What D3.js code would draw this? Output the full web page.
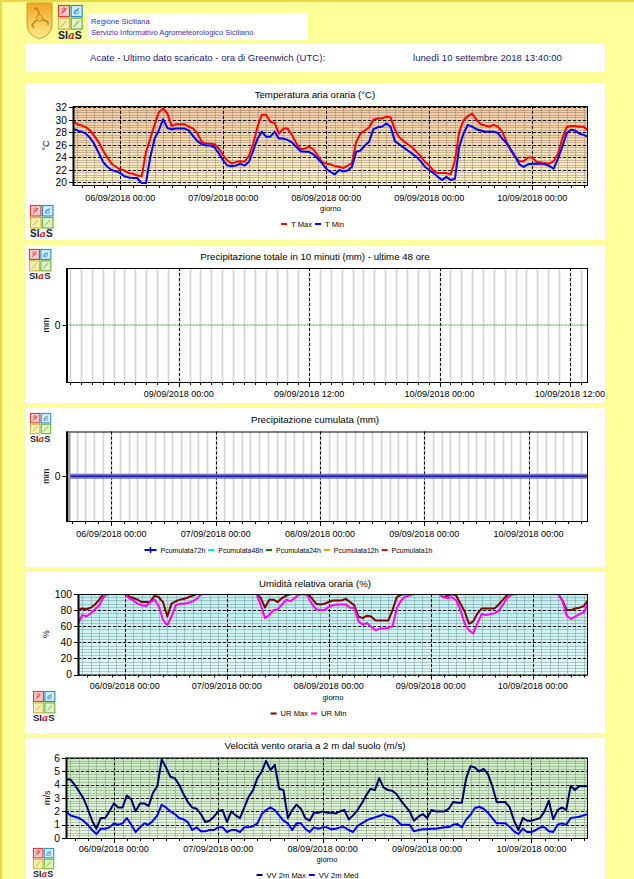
<!DOCTYPE html>
<html><head><meta charset="utf-8">
<script src="https://cdn.jsdelivr.net/npm/d3@7"></script>
<style>
body{margin:0;background:#FFFF99;}
svg{display:block;font-family:"Liberation Sans",Arial,sans-serif;}
</style>
</head><body>
<svg id="c" width="634" height="879"></svg>
<script>
// ---------------- DATA ----------------
const stationLine = "Acate - Ultimo dato scaricato - ora di Greenwich (UTC):";
const lastUpdate = "lunedì 10 settembre 2018 13:40:00";
const orgLines = ["Regione Siciliana", "Servizio Informativo Agrometeorologico Siciliano"];
const titles = ["Temperatura aria oraria (°C)", "Precipitazione totale in 10 minuti (mm) - ultime 48 ore",
  "Precipitazione cumulata (mm)", "Umidità relativa oraria (%)", "Velocità vento oraria a 2 m dal suolo (m/s)"];
const hourlyStart = Date.UTC(2018, 8, 5, 13, 0);   // 05/09/2018 13:00 UTC, one value per hour
const hourlyEnd = Date.UTC(2018, 8, 10, 13, 0);
const rainStart = Date.UTC(2018, 8, 8, 13, 40);    // last 48 h, 10-minute steps
const rainEnd = Date.UTC(2018, 8, 10, 13, 40);
const cumStart = Date.UTC(2018, 8, 5, 13, 40);
const cumEnd = Date.UTC(2018, 8, 10, 13, 40);

const tempTicks = [20, 22, 24, 26, 28, 30, 32];
const humTicks = [0, 20, 40, 60, 80, 100];
const windTicks = [0, 1, 2, 3, 4, 5, 6];

const tMax = [29.8,29.3,29.1,28.8,28.3,27.4,26.4,25.1,24.0,23.0,
 22.5,22.1,21.9,21.5,21.4,21.1,21.0,24.8,27.0,29.2,
 31.2,31.8,31.0,29.0,29.3,29.3,29.3,28.9,28.6,27.8,
 26.5,26.2,26.2,26.1,25.4,24.3,23.5,23.0,23.3,23.4,
 23.3,24.3,26.2,28.9,30.8,30.8,29.7,29.5,27.8,28.6,
 28.6,27.6,26.3,25.3,25.4,25.7,25.3,24.3,23.3,23.0,
 22.9,22.6,22.5,22.3,22.7,23.1,26.5,27.8,28.3,28.8,
 30.0,30.2,30.2,30.5,30.4,28.4,27.2,26.6,26.1,25.6,
 24.9,24.2,23.3,22.7,21.9,21.5,21.5,21.5,21.3,23.5,
 28.1,29.9,30.6,31.0,30.0,29.3,29.1,28.9,29.2,28.9,
 28.1,26.5,25.1,24.1,23.4,23.4,24.0,24.0,23.3,23.2,
 23.1,23.0,23.4,24.6,27.0,28.8,29.0,29.0,28.9,28.9,
 28.3];
const tMin = [28.6,28.3,28.1,27.8,27.1,26.1,24.7,23.3,22.5,22.0,
 21.8,21.5,21.0,20.8,20.7,20.7,19.9,19.9,24.0,27.0,
 28.3,30.1,28.7,28.5,28.6,28.6,28.6,28.3,27.4,26.6,
 26.1,25.9,25.9,25.6,24.6,23.5,22.7,22.6,22.7,23.0,
 22.7,23.3,25.1,27.0,28.1,27.3,27.3,28.1,27.0,27.0,
 26.8,26.4,25.7,25.0,24.9,24.9,24.5,23.8,23.1,22.2,
 21.7,21.3,22.0,21.8,21.9,22.5,24.9,25.1,25.9,26.5,
 28.5,28.8,28.9,29.4,28.9,26.6,26.1,25.6,25.1,24.6,
 24.1,23.4,22.5,22.0,21.5,20.9,20.4,20.9,20.4,20.6,
 25.7,27.8,29.2,28.9,28.5,28.3,28.1,28.1,28.1,27.9,
 27.0,26.3,25.3,24.2,22.9,22.5,22.9,23.0,23.0,23.0,
 22.9,22.6,22.2,23.8,25.7,27.8,28.4,28.3,27.8,27.6,
 27.3];
const rain10min = [0,0,0,0,0,0,0,0,0,0,0,0,0,0,0,0,0,0,0,0,0,0,0,0,
 0,0,0,0,0,0,0,0,0,0,0,0,0,0,0,0,0,0,0,0,0,0,0,0,
 0,0,0,0,0,0,0,0,0,0,0,0,0,0,0,0,0,0,0,0,0,0,0,0,
 0,0,0,0,0,0,0,0,0,0,0,0,0,0,0,0,0,0,0,0,0,0,0,0,
 0,0,0,0,0,0,0,0,0,0,0,0,0,0,0,0,0,0,0,0,0,0,0,0,
 0,0,0,0,0,0,0,0,0,0,0,0,0,0,0,0,0,0,0,0,0,0,0,0,
 0,0,0,0,0,0,0,0,0,0,0,0,0,0,0,0,0,0,0,0,0,0,0,0,
 0,0,0,0,0,0,0,0,0,0,0,0,0,0,0,0,0,0,0,0,0,0,0,0,
 0,0,0,0,0,0,0,0,0,0,0,0,0,0,0,0,0,0,0,0,0,0,0,0,
 0,0,0,0,0,0,0,0,0,0,0,0,0,0,0,0,0,0,0,0,0,0,0,0,
 0,0,0,0,0,0,0,0,0,0,0,0,0,0,0,0,0,0,0,0,0,0,0,0,
 0,0,0,0,0,0,0,0,0,0,0,0,0,0,0,0,0,0,0,0,0,0,0,0,0];
// cumulated rain (mm), one value per hour – every series is 0
const pCumulZero = [0,0,0,0,0,0,0,0,0,0,0,0,0,0,0,0,0,0,0,0,0,0,0,0,
 0,0,0,0,0,0,0,0,0,0,0,0,0,0,0,0,0,0,0,0,0,0,0,0,
 0,0,0,0,0,0,0,0,0,0,0,0,0,0,0,0,0,0,0,0,0,0,0,0,
 0,0,0,0,0,0,0,0,0,0,0,0,0,0,0,0,0,0,0,0,0,0,0,0,
 0,0,0,0,0,0,0,0,0,0,0,0,0,0,0,0,0,0,0,0,0,0,0,0,0];
const pcumulata72h = pCumulZero, pcumulata48h = pCumulZero, pcumulata24h = pCumulZero,
      pcumulata12h = pCumulZero, pcumulata1h = pCumulZero;
const urMax = [80,82,81,83,87,93,100,100,100,100,
 100,100,97,95,93,90,90,90,98,96,
 90,72,88,91,93,94,96,98,100,100,
 100,100,100,100,100,100,100,100,100,100,
 100,100,100,95,83,93,93,90,95,98,
 100,100,100,100,100,95,88,87,88,90,
 92,92,92,94,90,86,72,70,73,72,
 67,67,67,67,80,96,99,100,100,100,
 100,100,100,100,100,100,96,98,100,98,
 88,78,63,66,76,82,82,82,82,87,
 93,99,100,100,100,100,100,100,100,100,
 100,100,100,100,92,80,80,82,83,85,
 92];
const urMin = [63,74,72,76,81,86,96,100,100,100,
 100,100,95,92,88,86,85,90,93,85,
 68,61,72,86,88,88,89,91,94,100,
 100,100,100,100,100,100,100,100,100,100,
 100,100,100,86,70,74,80,81,87,93,
 91,95,99,100,98,88,81,80,80,84,
 86,87,87,87,83,83,66,62,64,59,
 55,57,57,58,60,82,92,97,98,100,
 100,100,100,100,100,100,96,95,96,92,
 80,63,55,51,64,75,74,75,76,79,
 87,95,99,100,100,100,100,100,100,100,
 100,100,100,100,91,73,69,72,75,77,
 88];
const vvMax = [4.4,4.4,4.0,3.5,3.0,2.2,1.3,0.7,1.5,1.5,
 2.0,2.6,2.3,2.3,3.2,2.9,2.0,2.6,2.6,2.4,
 3.4,3.9,5.9,5.3,4.6,4.5,4.0,3.3,2.7,2.3,
 2.2,1.8,1.2,1.3,1.6,2.0,2.1,1.2,2.0,1.7,
 1.5,2.3,3.1,3.6,4.5,5.0,5.8,5.1,5.5,3.7,
 3.6,1.5,2.1,2.5,2.2,1.5,1.3,1.9,1.9,2.0,
 1.9,1.9,1.85,2.0,2.1,1.4,1.7,2.1,2.6,3.2,
 3.7,3.6,4.5,3.8,3.6,3.55,3.3,2.8,2.4,2.0,
 1.3,1.6,1.8,1.5,2.1,2.0,2.0,2.0,2.2,2.7,
 2.65,2.65,4.5,5.4,5.3,5.0,5.2,4.8,3.9,2.7,
 2.7,2.7,2.3,1.3,0.6,1.5,1.3,1.3,1.4,1.5,
 2.0,2.8,1.4,2.1,2.3,2.1,3.9,3.6,3.9,3.9,
 3.9];
const vvMed = [2.0,1.7,1.6,1.5,1.3,1.0,0.6,0.3,0.7,0.7,
 0.8,1.1,1.0,1.1,1.5,1.0,0.45,0.8,1.1,1.0,
 1.3,1.7,2.5,2.3,2.0,1.8,1.5,1.4,1.2,0.6,
 0.8,0.5,0.5,0.6,0.6,0.8,0.8,0.45,0.6,0.6,
 0.45,0.8,0.8,0.9,1.1,1.8,2.1,2.3,2.1,1.7,
 1.3,1.1,0.6,1.1,1.1,0.7,0.45,0.8,0.7,0.8,
 0.8,0.65,0.7,0.8,0.8,0.6,0.45,0.9,1.1,1.3,
 1.45,1.55,1.65,1.8,1.65,1.6,1.35,1.0,1.0,1.0,
 0.5,0.6,0.65,0.65,0.7,0.7,0.75,0.8,0.8,1.0,
 1.05,0.8,1.4,1.75,2.25,2.35,2.2,1.9,1.5,1.1,
 1.1,1.1,0.85,0.5,0.3,0.7,0.45,0.45,0.6,0.8,
 0.8,0.5,0.45,1.0,1.1,1.0,1.5,1.55,1.6,1.7,
 1.8];

// ---------------- DRAW ----------------
const svg = d3.select("#c");
const defs = svg.append("defs");
const H = 3600e3;
const fmt = d3.utcFormat("%d/%m/%Y %H:%M");
const timesFrom = (start, n, stepMs) => d3.range(n).map(i => new Date(start + i * stepMs));

function grad(id, c1, c2) {
  const lg = defs.append("linearGradient").attr("id", id).attr("x1", 0).attr("y1", 0).attr("x2", 0).attr("y2", 1);
  lg.append("stop").attr("offset", "0%").attr("stop-color", c1);
  lg.append("stop").attr("offset", "100%").attr("stop-color", c2);
}
grad("gTemp", "#F4C69C", "#FDF3C8");
grad("gHum", "#BCEEF0", "#E2FAFA");
grad("gWind", "#C4EABD", "#EAF7E0");
grad("gShield", "#F2A622", "#FCEB8C");

// page
svg.append("rect").attr("width", 634).attr("height", 879).attr("fill", "#FFFF99");
svg.append("rect").attr("width", 634).attr("height", 2).attr("fill", "#E9D64A");
svg.append("rect").attr("width", 2).attr("height", 879).attr("fill", "#E9D64A");

function siasLogo(x, y, s) {
  const g = svg.append("g").attr("transform", `translate(${x},${y}) scale(${s})`);
  const sq = [[0, 0, "#F9CACA", "#E23A3A"], [12, 0, "#D2EEFB", "#2E8FD0"], [0, 12, "#F6EEB4", "#D0B33A"], [12, 12, "#E0F4CC", "#6DB236"]];
  sq.forEach(([a, b, f, st]) => {
    g.append("rect").attr("x", a + 0.5).attr("y", b + 0.5).attr("width", 10.5).attr("height", 10.5).attr("fill", f).attr("stroke", st).attr("stroke-width", 1.2);
    g.append("path").attr("d", `M${a + 3},${b + 8.5} L${a + 8},${b + 3}`).attr("stroke", st).attr("stroke-width", 1).attr("fill", "none");
  });
  g.append("circle").attr("cx", 5.5).attr("cy", 4.5).attr("r", 1.6).attr("fill", "none").attr("stroke", "#E23A3A").attr("stroke-width", 0.8);
  g.append("circle").attr("cx", 17.5).attr("cy", 6.5).attr("r", 2).attr("fill", "none").attr("stroke", "#2E8FD0").attr("stroke-width", 0.8);
  const t = g.append("text").attr("x", 0).attr("y", 32).attr("font-size", 10).attr("font-weight", "bold").attr("fill", "#1A1A3A");
  t.append("tspan").text("SI");
  t.append("tspan").attr("fill", "#D22").attr("font-style", "italic").attr("font-family", "DejaVu Serif, serif").text("a");
  t.append("tspan").text("S");
}

// header
const sh = svg.append("g").attr("transform", "translate(27,3)");
sh.append("path").attr("d", "M0,0 H25 V21 Q25,32 12.5,36 Q0,32 0,21 Z").attr("fill", "url(#gShield)").attr("stroke", "#C99A28").attr("stroke-width", 1);
sh.append("circle").attr("cx", 12.5).attr("cy", 15).attr("r", 3.2).attr("fill", "#F3C050").attr("stroke", "#B88020").attr("stroke-width", 0.8);
sh.append("path").attr("d", "M12.5,11.5 L10,5 L7,6 M15.5,16.5 L21,19 L21,22 M9.5,17 L5,22 L7,25").attr("stroke", "#B88020").attr("stroke-width", 1.4).attr("fill", "none");
siasLogo(58, 5, 1.05);
svg.append("rect").attr("x", 88).attr("y", 13).attr("width", 220).attr("height", 27).attr("fill", "#fff");
svg.append("text").attr("x", 91).attr("y", 24).attr("font-size", 7.6).attr("fill", "#3434B4").text(orgLines[0]);
svg.append("text").attr("x", 91).attr("y", 35).attr("font-size", 7.6).attr("fill", "#3434B4").text(orgLines[1]);
svg.append("rect").attr("x", 25).attr("y", 44).attr("width", 580).attr("height", 28).attr("fill", "#fff");
svg.append("text").attr("x", 90).attr("y", 61).attr("font-size", 9.6).attr("fill", "#1C1C6C").text(stationLine);
svg.append("text").attr("x", 413).attr("y", 61).attr("font-size", 9.6).attr("fill", "#1C1C6C").text(lastUpdate);

function legend(items, cx, y, fs) {
  const lg = svg.append("g");
  let xp = 0;
  items.forEach(it => {
    const dw = it.dash || 6;
    lg.append("line").attr("x1", xp).attr("x2", xp + dw).attr("y1", y - 2.5).attr("y2", y - 2.5).attr("stroke", it.color).attr("stroke-width", 2);
    if (it.plus) {
      lg.append("path").attr("d", `M${xp + dw / 2 - 3},${y - 2.5} H${xp + dw / 2 + 3} M${xp + dw / 2},${y - 5.5} V${y + 0.5}`).attr("stroke", it.color).attr("stroke-width", 1.5);
    }
    const t = lg.append("text").attr("x", xp + dw + 4).attr("y", y).attr("font-size", fs).text(it.label);
    xp += dw + 4 + t.node().getComputedTextLength() + 3;
  });
  lg.attr("transform", `translate(${cx - xp / 2},0)`);
}

function panel(c) {
  const g = svg.append("g");
  g.append("rect").attr("x", 25).attr("y", c.top).attr("width", 580).attr("height", c.height).attr("fill", "#fff");
  g.append("text").attr("x", 315).attr("y", c.titleY).attr("text-anchor", "middle").attr("font-size", 9.7).text(c.title);
  const { x0, x1, y0, y1 } = c;
  const x = d3.scaleUtc().domain(c.xDomain).range([x0, x1]);
  const y = d3.scaleLinear().domain(c.yDomain).range([y1, y0]);
  const clip = "clip" + c.id;
  defs.append("clipPath").attr("id", clip).append("rect").attr("x", x0).attr("y", y0).attr("width", x1 - x0).attr("height", y1 - y0);
  g.append("rect").attr("x", x0).attr("y", y0).attr("width", x1 - x0).attr("height", y1 - y0).attr("fill", c.bg || "#fff");
  const px = v => Math.round(v) + 0.5;
  const [d0, d1] = c.xDomain.map(d => new Date(d));
  if (c.yMinor) {
    g.append("g").selectAll("line").data(c.yMinor).join("line")
      .attr("x1", x0).attr("x2", x1).attr("y1", d => px(y(d))).attr("y2", d => px(y(d)))
      .attr("stroke", c.minorColor).attr("stroke-width", 1);
  }
  const vg = d3.utcHour.every(c.vStep).range(d0, d1);
  g.append("g").selectAll("line").data(vg).join("line")
    .attr("x1", d => px(x(d))).attr("x2", d => px(x(d))).attr("y1", y0).attr("y2", y1)
    .attr("stroke", c.vColor).attr("stroke-width", c.vWidth || 1);
  const majors = d3.utcHour.every(c.majorStep).range(d0, d1);
  g.append("g").selectAll("line").data(majors).join("line")
    .attr("x1", d => px(x(d))).attr("x2", d => px(x(d))).attr("y1", y0).attr("y2", y1)
    .attr("stroke", "#000").attr("stroke-width", 1).attr("stroke-dasharray", "3,2");
  if (c.yGridDashed) {
    g.append("g").selectAll("line").data(c.yTicks).join("line")
      .attr("x1", x0).attr("x2", x1).attr("y1", d => px(y(d))).attr("y2", d => px(y(d)))
      .attr("stroke", "#000").attr("stroke-width", 1).attr("stroke-dasharray", "3,2");
  }
  // series
  const sg = g.append("g").attr("clip-path", `url(#${clip})`);
  c.series.forEach(s => {
    const line = d3.line().x((d, i) => x(s.times[i])).y(d => y(d));
    sg.append("path").datum(s.values).attr("d", line).attr("fill", "none")
      .attr("stroke", s.color).attr("stroke-width", s.width || 2)
      .attr("stroke-dasharray", s.dash || null).attr("stroke-linejoin", "round");
  });
  // frame
  g.append("rect").attr("x", x0 + 0.5).attr("y", y0 + 0.5).attr("width", x1 - x0 - 1).attr("height", y1 - y0).attr("fill", "none").attr("stroke", "#000").attr("stroke-width", 1);
  g.append("line").attr("x1", x0 + 0.5).attr("x2", x0 + 0.5).attr("y1", y0).attr("y2", y1 + 1).attr("stroke", "#000").attr("stroke-width", 2);
  if (c.greyLeft) g.append("rect").attr("x", x0 + 1.5).attr("y", y0 + 1).attr("width", 2.5).attr("height", y1 - y0 - 1).attr("fill", "#9A9A9A");
  // x ticks
  const ticks = d3.utcHour.every(c.tickStep).range(d0, d1);
  g.append("g").selectAll("line").data(ticks).join("line")
    .attr("x1", d => px(x(d))).attr("x2", d => px(x(d))).attr("y1", y1).attr("y2", y1 + 3)
    .attr("stroke", "#000").attr("stroke-width", 1);
  g.append("g").selectAll("line").data(majors).join("line")
    .attr("x1", d => px(x(d))).attr("x2", d => px(x(d))).attr("y1", y1).attr("y2", y1 + 5)
    .attr("stroke", "#000").attr("stroke-width", 1);
  g.append("g").selectAll("text").data(majors).join("text")
    .attr("x", d => x(d)).attr("y", c.labelY).attr("text-anchor", "middle").attr("font-size", 9).text(d => fmt(d));
  // y ticks
  g.append("g").selectAll("line").data(c.yTicks).join("line")
    .attr("x1", x0 - 4).attr("x2", x0).attr("y1", d => px(y(d))).attr("y2", d => px(y(d))).attr("stroke", "#000");
  g.append("g").selectAll("text").data(c.yTicks).join("text")
    .attr("x", x0 - 6).attr("y", d => y(d)).attr("dy", "0.36em").attr("text-anchor", "end").attr("font-size", 10.3).text(d => d);
  g.append("text").attr("transform", `translate(${c.yLabelX},${(y0 + y1) / 2}) rotate(-90)`).attr("text-anchor", "middle").attr("font-size", 9).text(c.yLabel);
  if (c.giornoY) g.append("text").attr("x", (x0 + x1) / 2).attr("y", c.giornoY).attr("text-anchor", "middle").attr("font-size", 7.5).text("giorno");
  if (c.legend) legend(c.legend, c.legendCx || 312, c.legendY, c.legendFs || 7.6);
  siasLogo(c.logo[0], c.logo[1], c.logo[2]);
}

const hTimes = timesFrom(hourlyStart, tMax.length, H);

panel({
  id: 1, top: 83, height: 157, titleY: 97.8, title: titles[0],
  x0: 73, x1: 588, y0: 106, y1: 185, xDomain: [hourlyStart, hourlyEnd], yDomain: [19.6, 32.2],
  bg: "url(#gTemp)", yMinor: d3.range(19.6, 32.21, 0.4), minorColor: "rgba(140,130,120,0.45)",
  vStep: 2, vColor: "rgba(140,130,120,0.45)", majorStep: 24, tickStep: 3, yGridDashed: true,
  yTicks: tempTicks, yLabel: "°C", yLabelX: 49, labelY: 200.5, giornoY: 210.5,
  series: [{ values: tMax, times: hTimes, color: "#FF0000" }, { values: tMin, times: hTimes, color: "#0000FF" }],
  legend: [{ label: "T Max", color: "#FF0000" }, { label: "T Min", color: "#0000FF" }], legendY: 226.5, legendCx: 314,
  logo: [30, 205, 1.0]
});

panel({
  id: 2, top: 245, height: 158, titleY: 260, title: titles[1],
  x0: 66.5, x1: 588, y0: 268, y1: 382, xDomain: [rainStart, rainEnd], yDomain: [-1, 1],
  vStep: 1, vColor: "#D4D4D4", vWidth: 1.6, majorStep: 12, tickStep: 1,
  yTicks: [0], yLabel: "mm", yLabelX: 49, labelY: 397,
  series: [{ values: rain10min, times: timesFrom(rainStart, rain10min.length, H / 6), color: "#2E9B2E", width: 1, dash: "2,1" }],
  logo: [29, 249, 0.95]
});

const cTimes = timesFrom(cumStart, pCumulZero.length, H);
panel({
  id: 3, top: 408, height: 159, titleY: 422.7, title: titles[2],
  x0: 66.5, x1: 588, y0: 431.5, y1: 521, xDomain: [cumStart, cumEnd], yDomain: [-1, 1],
  vStep: 2, vColor: "#D4D4D4", vWidth: 1.6, majorStep: 24, tickStep: 3, greyLeft: true,
  yTicks: [0], yLabel: "mm", yLabelX: 49, labelY: 536.5,
  series: [
    { values: pcumulata1h, times: cTimes, color: "#FF0000", width: 1 },
    { values: pcumulata12h, times: cTimes, color: "#E0A000", width: 1 },
    { values: pcumulata24h, times: cTimes, color: "#008000", width: 1 },
    { values: pcumulata48h, times: cTimes, color: "#00E0E0", width: 1 },
    { values: pcumulata72h, times: cTimes, color: "#7272D2", width: 5 },
    { values: pcumulata72h, times: cTimes, color: "#24249A", width: 1.6 }
  ],
  legend: [{ label: "Pcumulata72h", color: "#0000CC", dash: 12, plus: true }, { label: "Pcumulata48h", color: "#00E0E0" },
    { label: "Pcumulata24h", color: "#008000" }, { label: "Pcumulata12h", color: "#E0A000" }, { label: "Pcumulata1h", color: "#FF0000" }],
  legendY: 552.5, legendCx: 290, legendFs: 7,
  logo: [30, 413, 0.9]
});

panel({
  id: 4, top: 572, height: 161, titleY: 586.7, title: titles[3],
  x0: 78, x1: 588, y0: 594, y1: 674.5, xDomain: [hourlyStart, hourlyEnd], yDomain: [0, 100],
  bg: "url(#gHum)", yMinor: d3.range(0, 100.1, 4), minorColor: "rgba(120,140,140,0.45)",
  vStep: 2, vColor: "rgba(120,140,140,0.45)", majorStep: 24, tickStep: 3, yGridDashed: true,
  yTicks: humTicks, yLabel: "%", yLabelX: 49, labelY: 689, giornoY: 700,
  series: [{ values: urMax, times: hTimes, color: "#800000" }, { values: urMin, times: hTimes, color: "#FF00FF" }],
  legend: [{ label: "UR Max", color: "#800000" }, { label: "UR Min", color: "#FF00FF" }], legendY: 716, legendCx: 310,
  logo: [33, 691, 0.95]
});

panel({
  id: 5, top: 738, height: 145, titleY: 749.4, title: titles[4],
  x0: 66, x1: 588, y0: 757.5, y1: 838, xDomain: [hourlyStart, hourlyEnd], yDomain: [0, 6.05],
  bg: "url(#gWind)", yMinor: d3.range(0, 6.01, 0.2), minorColor: "rgba(120,140,120,0.45)",
  vStep: 2, vColor: "rgba(120,140,120,0.45)", majorStep: 24, tickStep: 3, yGridDashed: true,
  yTicks: windTicks, yLabel: "m/s", yLabelX: 50, labelY: 852, giornoY: 862,
  series: [{ values: vvMax, times: hTimes, color: "#000066" }, { values: vvMed, times: hTimes, color: "#0000FF" }],
  legend: [{ label: "VV 2m Max", color: "#000066" }, { label: "VV 2m Med", color: "#0000FF" }], legendY: 877.5, legendCx: 309,
  logo: [33, 848, 0.9]
});
</script>
</body></html>
